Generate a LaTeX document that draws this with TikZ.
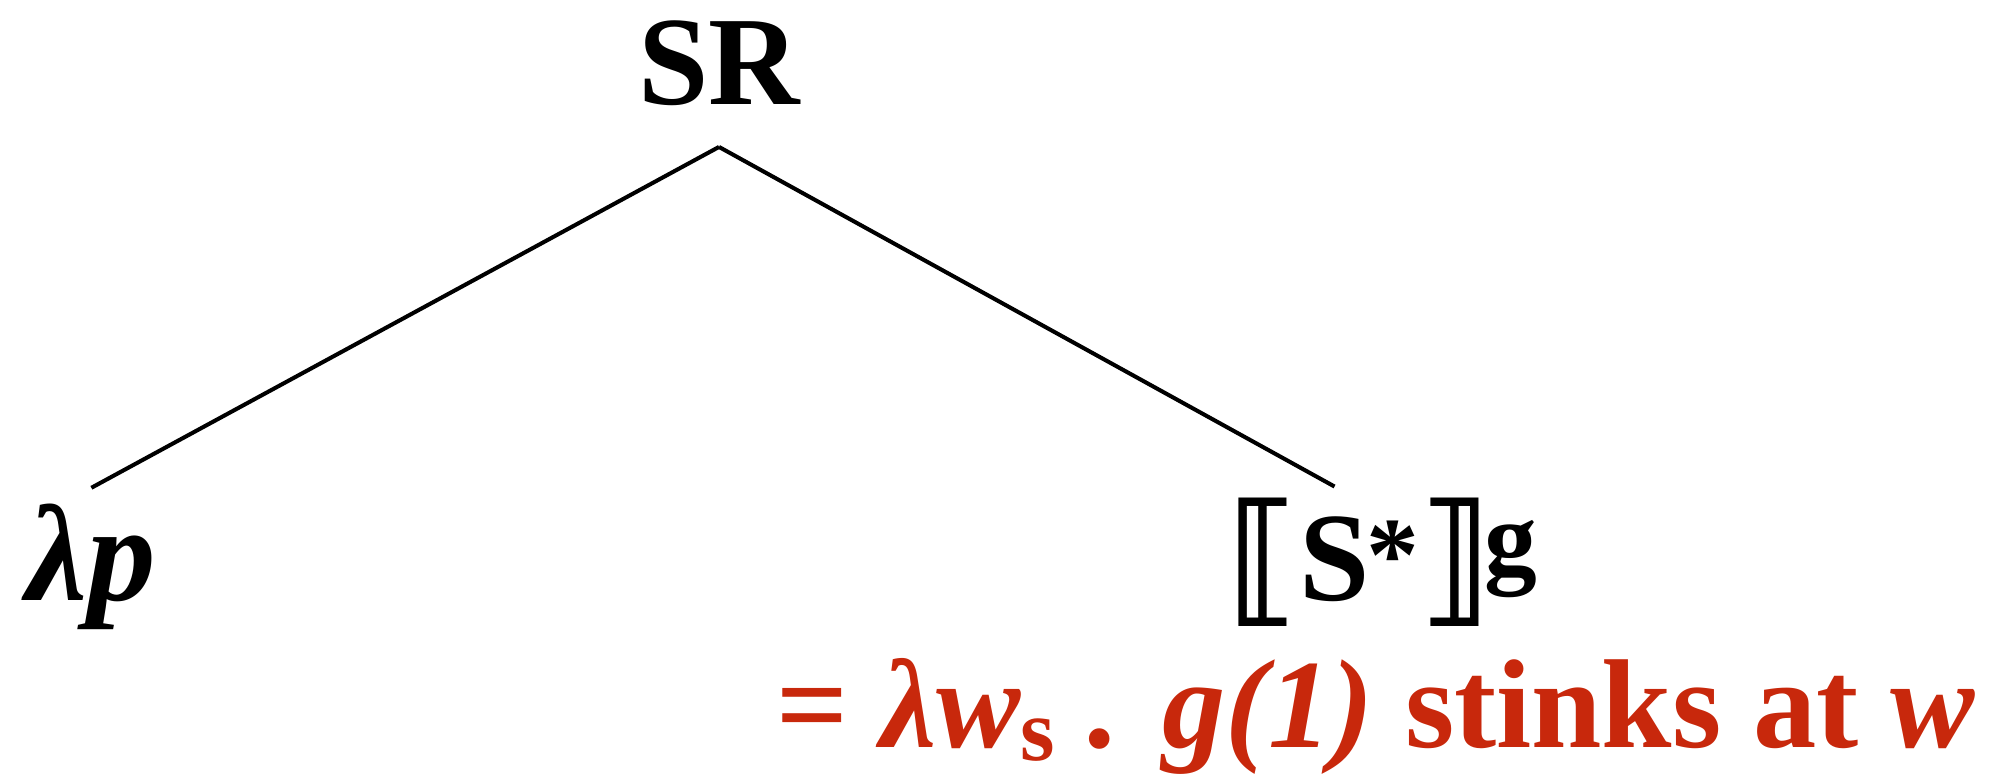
\documentclass[tikz,border=0pt]{standalone}
\usepackage{fontspec}
\setmainfont{Liberation Serif}[
  BoldFont={Liberation Serif Bold},
  ItalicFont={Liberation Serif Italic},
  BoldItalicFont={Liberation Serif Bold Italic}]
\newfontfamily\bracketfont{DejaVu Sans}
\usetikzlibrary{positioning}
\definecolor{denred}{RGB}{200,40,12}
\newcommand{\starmark}{\raisebox{1.7mm}{\fontsize{30}{36}\selectfont\rmfamily\bfseries *}}
\tikzset{
  treenode/.style={inner xsep=0pt,inner ysep=0pt,font=\fontsize{36}{43}\selectfont\bfseries},
  supnode/.style={inner sep=0pt,font=\fontsize{30}{36}\selectfont\bfseries},
  brack/.style={inner sep=0pt,font=\fontsize{41}{48}\selectfont\bracketfont\bfseries},
  denot/.style={treenode,text=denred},
  branch/.style={draw=black,line width=1.15pt},
}
\begin{document}
\begin{tikzpicture}[x=0.1mm,y=0.1mm]
  \useasboundingbox (0,0) rectangle (2010,778);
  % mother node and the two daughters
  \node[treenode,inner ysep=4mm,anchor=base] (SR) at (719,673) {SR};
  \node[treenode,font=\fontsize{39}{46}\selectfont\bfseries,inner ysep=1.5mm,
        anchor=base west] (lamp) at (26,178) {\itshape λp};
  \node[brack,anchor=base west] (lbr) at (1226,171) {⟦};
  \node[treenode,inner ysep=2.9mm,anchor=base west] (S) at ([xshift=0.1mm,yshift=0.7mm]lbr.base east) {S};
  \node[brack,anchor=base west] (rbr) at ([xshift=-0.5mm,yshift=-0.7mm]S.base east) {\starmark⟧};
  \node[supnode,anchor=base west] (gsup) at ([xshift=-0.6mm,yshift=3.3mm]rbr.base east) {g};
  \draw[branch] (SR.south) -- (lamp.north);
  \draw[branch] (SR.south) -- (S.north);
  % value of the right daughter
  \node[denot,anchor=base west] (val) at (776,31)
    {= \itshape λw\textsubscript{\upshape s} . g(1) \upshape stinks at \itshape w};
\end{tikzpicture}
\end{document}
